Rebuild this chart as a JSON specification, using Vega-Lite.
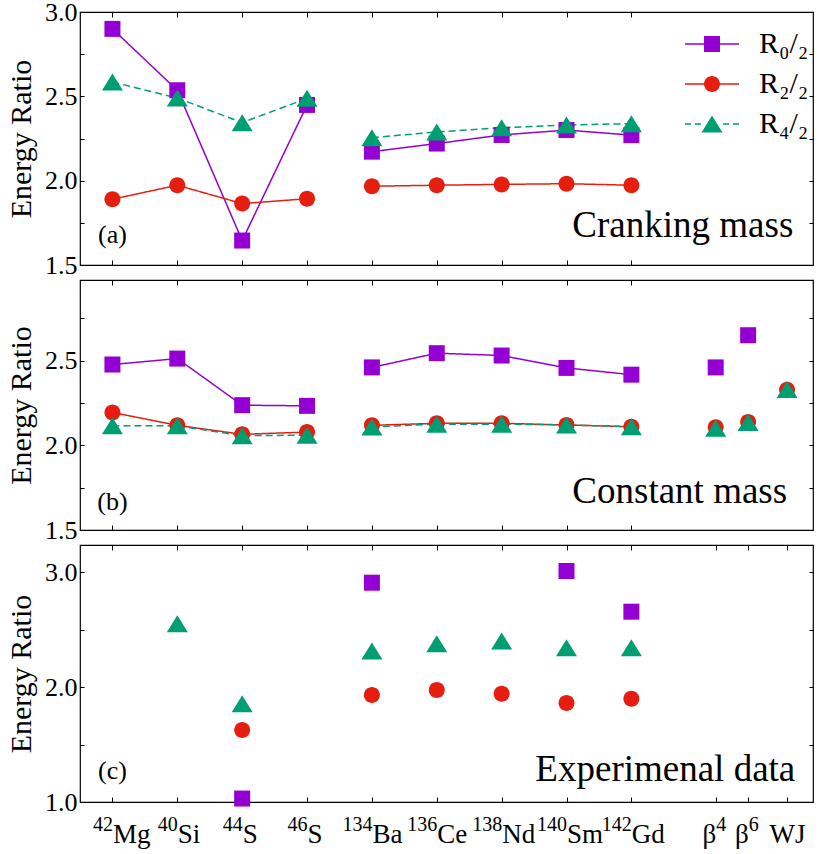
{
  "$schema": "https://vega.github.io/schema/vega-lite/v6.json",
  "background": "white",
  "padding": {"left": 5, "top": -2, "right": 13, "bottom": 5},
  "config": {
    "view": {"stroke": "black", "strokeWidth": 1.2},
    "font": "Liberation Serif",
    "axis": {
      "labelFont": "Liberation Serif", "labelFontSize": 26, "labelColor": "black",
      "titleFont": "Liberation Serif", "titleFontSize": 30, "titleColor": "black", "titleFontWeight": "normal",
      "tickColor": "black", "tickWidth": 1, "grid": false, "domain": false, "labelFlush": false, "labelOverlap": false
    }
  },
  "datasets": {
    "a": [
      {"x": 1, "s": "R₀/₂", "v": 2.90, "g": 1}, {"x": 2, "s": "R₀/₂", "v": 2.536, "g": 1}, {"x": 3, "s": "R₀/₂", "v": 1.645, "g": 1}, {"x": 4, "s": "R₀/₂", "v": 2.449, "g": 1},
      {"x": 5, "s": "R₀/₂", "v": 2.172, "g": 2}, {"x": 6, "s": "R₀/₂", "v": 2.22, "g": 2}, {"x": 7, "s": "R₀/₂", "v": 2.271, "g": 2}, {"x": 8, "s": "R₀/₂", "v": 2.30, "g": 2}, {"x": 9, "s": "R₀/₂", "v": 2.27, "g": 2},
      {"x": 1, "s": "R₂/₂", "v": 1.89, "g": 1}, {"x": 2, "s": "R₂/₂", "v": 1.973, "g": 1}, {"x": 3, "s": "R₂/₂", "v": 1.864, "g": 1}, {"x": 4, "s": "R₂/₂", "v": 1.893, "g": 1},
      {"x": 5, "s": "R₂/₂", "v": 1.967, "g": 2}, {"x": 6, "s": "R₂/₂", "v": 1.973, "g": 2}, {"x": 7, "s": "R₂/₂", "v": 1.978, "g": 2}, {"x": 8, "s": "R₂/₂", "v": 1.982, "g": 2}, {"x": 9, "s": "R₂/₂", "v": 1.973, "g": 2},
      {"x": 1, "s": "R₄/₂", "v": 2.585, "g": 1}, {"x": 2, "s": "R₄/₂", "v": 2.49, "g": 1}, {"x": 3, "s": "R₄/₂", "v": 2.344, "g": 1}, {"x": 4, "s": "R₄/₂", "v": 2.488, "g": 1},
      {"x": 5, "s": "R₄/₂", "v": 2.255, "g": 2}, {"x": 6, "s": "R₄/₂", "v": 2.289, "g": 2}, {"x": 7, "s": "R₄/₂", "v": 2.314, "g": 2}, {"x": 8, "s": "R₄/₂", "v": 2.33, "g": 2}, {"x": 9, "s": "R₄/₂", "v": 2.338, "g": 2}
    ],
    "b": [
      {"x": 1, "s": "R₀/₂", "v": 2.477, "g": 1}, {"x": 2, "s": "R₀/₂", "v": 2.512, "g": 1}, {"x": 3, "s": "R₀/₂", "v": 2.237, "g": 1}, {"x": 4, "s": "R₀/₂", "v": 2.233, "g": 1},
      {"x": 5, "s": "R₀/₂", "v": 2.46, "g": 2}, {"x": 6, "s": "R₀/₂", "v": 2.544, "g": 2}, {"x": 7, "s": "R₀/₂", "v": 2.53, "g": 2}, {"x": 8, "s": "R₀/₂", "v": 2.457, "g": 2}, {"x": 9, "s": "R₀/₂", "v": 2.417, "g": 2},
      {"x": 10.3, "s": "R₀/₂", "v": 2.46, "g": 3}, {"x": 10.8, "s": "R₀/₂", "v": 2.65, "g": 4},
      {"x": 1, "s": "R₂/₂", "v": 2.194, "g": 1}, {"x": 2, "s": "R₂/₂", "v": 2.118, "g": 1}, {"x": 3, "s": "R₂/₂", "v": 2.065, "g": 1}, {"x": 4, "s": "R₂/₂", "v": 2.078, "g": 1},
      {"x": 5, "s": "R₂/₂", "v": 2.118, "g": 2}, {"x": 6, "s": "R₂/₂", "v": 2.13, "g": 2}, {"x": 7, "s": "R₂/₂", "v": 2.13, "g": 2}, {"x": 8, "s": "R₂/₂", "v": 2.12, "g": 2}, {"x": 9, "s": "R₂/₂", "v": 2.11, "g": 2},
      {"x": 10.3, "s": "R₂/₂", "v": 2.107, "g": 3}, {"x": 10.8, "s": "R₂/₂", "v": 2.137, "g": 4}, {"x": 11.4, "s": "R₂/₂", "v": 2.328, "g": 5},
      {"x": 1, "s": "R₄/₂", "v": 2.115, "g": 1}, {"x": 2, "s": "R₄/₂", "v": 2.115, "g": 1}, {"x": 3, "s": "R₄/₂", "v": 2.057, "g": 1}, {"x": 4, "s": "R₄/₂", "v": 2.06, "g": 1},
      {"x": 5, "s": "R₄/₂", "v": 2.108, "g": 2}, {"x": 6, "s": "R₄/₂", "v": 2.125, "g": 2}, {"x": 7, "s": "R₄/₂", "v": 2.125, "g": 2}, {"x": 8, "s": "R₄/₂", "v": 2.12, "g": 2}, {"x": 9, "s": "R₄/₂", "v": 2.11, "g": 2},
      {"x": 10.3, "s": "R₄/₂", "v": 2.10, "g": 3}, {"x": 10.8, "s": "R₄/₂", "v": 2.135, "g": 4}, {"x": 11.4, "s": "R₄/₂", "v": 2.33, "g": 5}
    ],
    "c": [
      {"x": 3, "s": "R₀/₂", "v": 1.03}, {"x": 5, "s": "R₀/₂", "v": 2.907}, {"x": 8, "s": "R₀/₂", "v": 3.009}, {"x": 9, "s": "R₀/₂", "v": 2.655},
      {"x": 3, "s": "R₂/₂", "v": 1.626}, {"x": 5, "s": "R₂/₂", "v": 1.93}, {"x": 6, "s": "R₂/₂", "v": 1.974}, {"x": 7, "s": "R₂/₂", "v": 1.942}, {"x": 8, "s": "R₂/₂", "v": 1.861}, {"x": 9, "s": "R₂/₂", "v": 1.898},
      {"x": 2, "s": "R₄/₂", "v": 2.55}, {"x": 3, "s": "R₄/₂", "v": 1.855}, {"x": 5, "s": "R₄/₂", "v": 2.313}, {"x": 6, "s": "R₄/₂", "v": 2.377}, {"x": 7, "s": "R₄/₂", "v": 2.40}, {"x": 8, "s": "R₄/₂", "v": 2.342}, {"x": 9, "s": "R₄/₂", "v": 2.342}
    ]
  },
  "spacing": 15,
  "bounds": "flush",
  "vconcat": [
    {
      "width": 733, "height": 253,
      "data": {"name": "a"},
      "resolve": {"scale": {"color": "independent", "shape": "independent", "strokeDash": "independent"}, "axis": {"x": "independent", "y": "independent"}},
      "layer": [
        {
          "mark": {"type": "line", "strokeWidth": 1.5},
          "encoding": {
            "x": {"field": "x", "type": "quantitative", "scale": {"domain": [0.5, 11.8], "nice": false, "zero": false}, "axis": null},
            "y": {"field": "v", "type": "quantitative", "scale": {"domain": [1.5, 3.0], "nice": false, "zero": false}, "axis": null},
            "color": {"field": "s", "type": "nominal", "scale": {"domain": ["R₀/₂", "R₂/₂", "R₄/₂"], "range": ["#9400D3", "#E51E10", "#009E73"]}, "legend": null},
            "strokeDash": {"field": "s", "type": "nominal", "scale": {"domain": ["R₀/₂", "R₂/₂", "R₄/₂"], "range": [[1, 0], [1, 0], [7, 4]]}, "legend": null},
            "detail": {"field": "g"}
          }
        },
        {
          "mark": {"type": "point", "filled": true, "opacity": 1, "size": 400},
          "encoding": {
            "x": {"field": "x", "type": "quantitative", "scale": {"domain": [0.5, 11.8], "nice": false, "zero": false},
                  "axis": {"orient": "bottom", "values": [1, 2, 3, 4, 5, 6, 7, 8, 9], "labels": false, "tickSize": -5, "title": null}},
            "y": {"field": "v", "type": "quantitative", "scale": {"domain": [1.5, 3.0], "nice": false, "zero": false},
                  "axis": {"orient": "left", "values": [1.5, 1.75, 2, 2.25, 2.5, 2.75, 3.0], "labelExpr": "(datum.value * 2) % 1 == 0 ? format(datum.value, '.1f') : ''", "tickSize": -4, "labelPadding": 7, "title": "Energy Ratio", "titlePadding": 8}},
            "color": {"field": "s", "type": "nominal", "scale": {"domain": ["R₀/₂", "R₂/₂", "R₄/₂"], "range": ["#9400D3", "#E51E10", "#009E73"]}, "legend": null},
            "shape": {"field": "s", "type": "nominal", "scale": {"domain": ["R₀/₂", "R₂/₂", "R₄/₂"], "range": ["M-0.8,-0.8H0.8V0.8H-0.8Z", "M0.8,0A0.8,0.8,0,1,1,-0.8,0A0.8,0.8,0,1,1,0.8,0Z", "M0,-0.85L1.05,0.85H-1.05Z"]}, "legend": null}
          }
        },
        {
          "data": {"values": [{}]},
          "mark": {"type": "text", "align": "center", "baseline": "alphabetic", "font": "Liberation Serif", "fontSize": 26, "color": "black"},
          "encoding": {
            "x": {"datum": 1.0, "type": "quantitative", "axis": {"orient": "top", "values": [1, 2, 3, 4, 5, 6, 7, 8, 9], "labels": false, "tickSize": -5, "title": null}},
            "y": {"datum": 1.632, "type": "quantitative", "axis": {"orient": "right", "values": [1.75, 2, 2.25, 2.5, 2.75], "labels": false, "tickSize": -4, "title": null}},
            "text": {"value": "(a)"}
          }
        },
        {
          "data": {"values": [{}]},
          "mark": {"type": "text", "align": "left", "baseline": "alphabetic", "font": "Liberation Serif", "fontSize": 37, "color": "black"},
          "encoding": {
            "x": {"datum": 8.09, "type": "quantitative", "axis": null},
            "y": {"datum": 1.666, "type": "quantitative", "axis": null},
            "text": {"value": "Cranking mass"}
          }
        },
        {
          "transform": [{"filter": "datum.v > 100"}],
          "mark": {"type": "point", "filled": true, "opacity": 1, "size": 400},
          "encoding": {
            "x": {"field": "x", "type": "quantitative", "axis": null},
            "y": {"field": "v", "type": "quantitative", "axis": null},
            "color": {"field": "s", "type": "nominal", "scale": {"domain": ["R₀/₂", "R₂/₂", "R₄/₂"], "range": ["#9400D3", "#E51E10", "#009E73"]},
                      "legend": {"orient": "none", "legendX": 617, "legendY": 17, "title": null, "labelFont": "Liberation Serif", "labelFontSize": 30, "labelColor": "black", "labelOffset": 32, "rowPadding": 10, "symbolSize": 400, "symbolStrokeWidth": 0, "symbolOpacity": 1}},
            "shape": {"field": "s", "type": "nominal", "scale": {"domain": ["R₀/₂", "R₂/₂", "R₄/₂"], "range": [
              "M-2.7,-0.075H-0.8V0.075H-2.7ZM0.8,-0.075H2.7V0.075H0.8ZM-0.8,-0.8H0.8V0.8H-0.8Z",
              "M-2.7,-0.075H-0.75V0.075H-2.7ZM0.75,-0.075H2.7V0.075H0.75ZM0.8,0A0.8,0.8,0,1,1,-0.8,0A0.8,0.8,0,1,1,0.8,0Z",
              "M-2.7,-0.075H-2.1V0.075H-2.7ZM-1.7,-0.075H-1.1V0.075H-1.7ZM1.1,-0.075H1.7V0.075H1.1ZM2.1,-0.075H2.7V0.075H2.1ZM0,-0.85L1.05,0.85H-1.05Z"
            ]}}
          }
        }
      ]
    },
    {
      "width": 733, "height": 250,
      "data": {"name": "b"},
      "resolve": {"scale": {"color": "independent", "shape": "independent", "strokeDash": "independent"}, "axis": {"x": "independent", "y": "independent"}},
      "layer": [
        {
          "mark": {"type": "line", "strokeWidth": 1.5},
          "encoding": {
            "x": {"field": "x", "type": "quantitative", "scale": {"domain": [0.5, 11.8], "nice": false, "zero": false}, "axis": null},
            "y": {"field": "v", "type": "quantitative", "scale": {"domain": [1.5, 2.976], "nice": false, "zero": false}, "axis": null},
            "color": {"field": "s", "type": "nominal", "scale": {"domain": ["R₀/₂", "R₂/₂", "R₄/₂"], "range": ["#9400D3", "#E51E10", "#009E73"]}, "legend": null},
            "strokeDash": {"field": "s", "type": "nominal", "scale": {"domain": ["R₀/₂", "R₂/₂", "R₄/₂"], "range": [[1, 0], [1, 0], [7, 4]]}, "legend": null},
            "detail": {"field": "g"}
          }
        },
        {
          "mark": {"type": "point", "filled": true, "opacity": 1, "size": 400},
          "encoding": {
            "x": {"field": "x", "type": "quantitative", "scale": {"domain": [0.5, 11.8], "nice": false, "zero": false},
                  "axis": {"orient": "bottom", "values": [1, 2, 3, 4, 5, 6, 7, 8, 9], "labels": false, "tickSize": -5, "title": null}},
            "y": {"field": "v", "type": "quantitative", "scale": {"domain": [1.5, 2.976], "nice": false, "zero": false},
                  "axis": {"orient": "left", "values": [1.5, 1.75, 2, 2.25, 2.5, 2.75], "labelExpr": "(datum.value * 2) % 1 == 0 ? format(datum.value, '.1f') : ''", "tickSize": -4, "labelPadding": 7, "title": "Energy Ratio", "titlePadding": 8}},
            "color": {"field": "s", "type": "nominal", "scale": {"domain": ["R₀/₂", "R₂/₂", "R₄/₂"], "range": ["#9400D3", "#E51E10", "#009E73"]}, "legend": null},
            "shape": {"field": "s", "type": "nominal", "scale": {"domain": ["R₀/₂", "R₂/₂", "R₄/₂"], "range": ["M-0.8,-0.8H0.8V0.8H-0.8Z", "M0.8,0A0.8,0.8,0,1,1,-0.8,0A0.8,0.8,0,1,1,0.8,0Z", "M0,-0.85L1.05,0.85H-1.05Z"]}, "legend": null}
          }
        },
        {
          "data": {"values": [{}]},
          "mark": {"type": "text", "align": "center", "baseline": "alphabetic", "font": "Liberation Serif", "fontSize": 26, "color": "black"},
          "encoding": {
            "x": {"datum": 1.0, "type": "quantitative", "axis": {"orient": "top", "values": [1, 2, 3, 4, 5, 6, 7, 8, 9], "labels": false, "tickSize": -5, "title": null}},
            "y": {"datum": 1.619, "type": "quantitative", "axis": {"orient": "right", "values": [1.75, 2, 2.25, 2.5, 2.75], "labels": false, "tickSize": -4, "title": null}},
            "text": {"value": "(b)"}
          }
        },
        {
          "data": {"values": [{}]},
          "mark": {"type": "text", "align": "left", "baseline": "alphabetic", "font": "Liberation Serif", "fontSize": 37, "color": "black"},
          "encoding": {
            "x": {"datum": 8.09, "type": "quantitative", "axis": null},
            "y": {"datum": 1.662, "type": "quantitative", "axis": null},
            "text": {"value": "Constant mass"}
          }
        }
      ]
    },
    {
      "width": 733, "height": 257,
      "data": {"name": "c"},
      "resolve": {"scale": {"color": "independent", "shape": "independent"}, "axis": {"x": "independent", "y": "independent"}},
      "layer": [
        {
          "mark": {"type": "point", "filled": true, "opacity": 1, "size": 400},
          "encoding": {
            "x": {"field": "x", "type": "quantitative", "scale": {"domain": [0.5, 11.8], "nice": false, "zero": false},
                  "axis": {"orient": "bottom", "values": [1, 2, 3, 4, 5, 6, 7, 8, 9, 10.3, 10.8, 11.4],
                           "labelExpr": "['Mg','Si','S','S','Ba','Ce','Nd','Sm','Gd','β','β','WJ'][indexof([1,2,3,4,5,6,7,8,9,10.3,10.8,11.4], datum.value)]",
                           "labelFontSize": 27, "labelBaseline": "alphabetic", "tickSize": -5, "labelPadding": 45, "title": null,
                           "labelAlign": {"condition": [{"test": "datum.value == 11.4", "value": "center"}, {"test": "datum.value > 10", "value": "right"}], "value": "left"},
                           "encode": {"labels": {"dx": {"value": {"expr": "[-8.75,-1.25,2.5,2.5,0,0,-1.5,-3,-1.5,1.75,1.75,0][indexof([1,2,3,4,5,6,7,8,9,10.3,10.8,11.4], datum.value)]"}}}}}},
            "y": {"field": "v", "type": "quantitative", "scale": {"domain": [1.0, 3.235], "nice": false, "zero": false},
                  "axis": {"orient": "left", "values": [1, 1.5, 2, 2.5, 3], "labelExpr": "datum.value % 1 == 0 ? format(datum.value, '.1f') : ''", "tickSize": -4, "labelPadding": 7, "title": "Energy Ratio", "titlePadding": 8}},
            "color": {"field": "s", "type": "nominal", "scale": {"domain": ["R₀/₂", "R₂/₂", "R₄/₂"], "range": ["#9400D3", "#E51E10", "#009E73"]}, "legend": null},
            "shape": {"field": "s", "type": "nominal", "scale": {"domain": ["R₀/₂", "R₂/₂", "R₄/₂"], "range": ["M-0.8,-0.8H0.8V0.8H-0.8Z", "M0.8,0A0.8,0.8,0,1,1,-0.8,0A0.8,0.8,0,1,1,0.8,0Z", "M0,-0.85L1.05,0.85H-1.05Z"]}, "legend": null}
          }
        },
        {
          "data": {"values": [{}]},
          "mark": {"type": "text", "align": "center", "baseline": "alphabetic", "font": "Liberation Serif", "fontSize": 26, "color": "black"},
          "encoding": {
            "x": {"datum": 1.0, "type": "quantitative", "axis": {"orient": "top", "values": [1, 2, 3, 4, 5, 6, 7, 8, 9, 10.3, 10.8, 11.4], "labels": false, "tickSize": -5, "title": null}},
            "y": {"datum": 1.2, "type": "quantitative", "axis": {"orient": "right", "values": [1.5, 2, 2.5, 3], "labels": false, "tickSize": -4, "title": null}},
            "text": {"value": "(c)"}
          }
        },
        {
          "data": {"values": [{}]},
          "mark": {"type": "text", "align": "left", "baseline": "alphabetic", "font": "Liberation Serif", "fontSize": 37, "color": "black"},
          "encoding": {
            "x": {"datum": 7.52, "type": "quantitative",
                  "axis": {"orient": "bottom", "values": [1, 2, 3, 4, 5, 6, 7, 8, 9, 10.3, 10.8, 11.4], "ticks": false, "title": null,
                           "labelExpr": "['42','40','44','46','134','136','138','140','142','4','6',''][indexof([1,2,3,4,5,6,7,8,9,10.3,10.8,11.4], datum.value)]",
                           "labelFontSize": 20, "labelBaseline": "alphabetic", "labelPadding": 28,
                           "labelAlign": {"condition": {"test": "datum.value > 10", "value": "left"}, "value": "right"},
                           "encode": {"labels": {"dx": {"value": {"expr": "[-8.75,-1.25,2.5,2.5,0,0,-1.5,-3,-1.5,1.75,1.75,0][indexof([1,2,3,4,5,6,7,8,9,10.3,10.8,11.4], datum.value)]"}}}}}},
            "y": {"datum": 1.183, "type": "quantitative", "axis": null},
            "text": {"value": "Experimenal data"}
          }
        }
      ]
    }
  ]
}
